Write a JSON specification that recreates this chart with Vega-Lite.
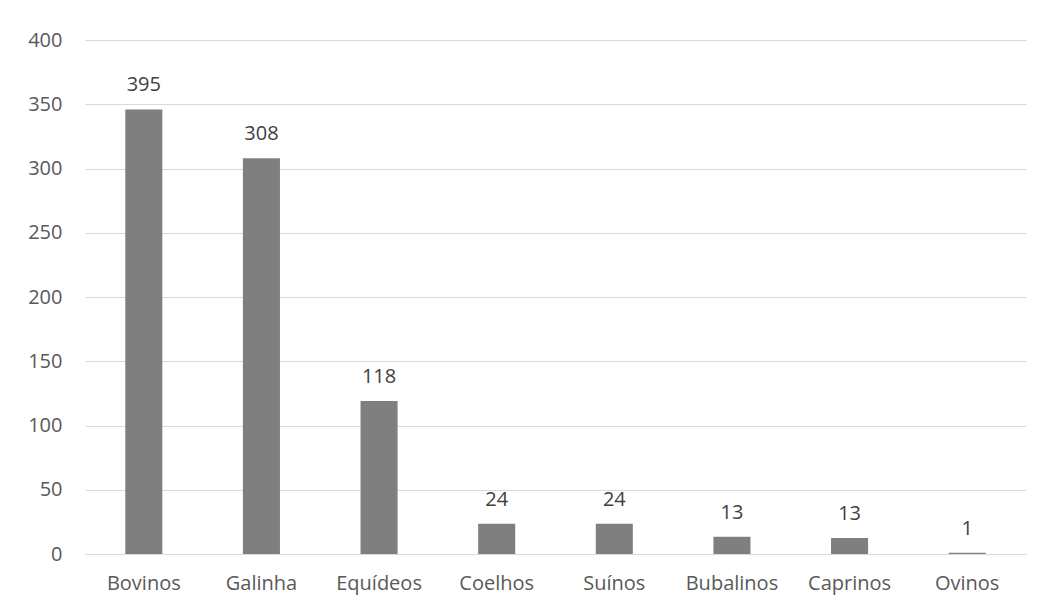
{
  "$schema": "https://vega.github.io/schema/vega-lite/v6.json",
  "width": 941,
  "height": 514,
  "autosize": {"type": "none"},
  "padding": {"left": 85, "top": 40, "right": 15, "bottom": 54},
  "background": "white",
  "config": {"view": {"stroke": null}, "font": "Open Sans"},
  "data": {
    "values": [
      {"animal": "Bovinos", "valor": 346, "rotulo": "395"},
      {"animal": "Galinha", "valor": 308, "rotulo": "308"},
      {"animal": "Equídeos", "valor": 119, "rotulo": "118"},
      {"animal": "Coelhos", "valor": 23.5, "rotulo": "24"},
      {"animal": "Suínos", "valor": 23.5, "rotulo": "24"},
      {"animal": "Bubalinos", "valor": 13.5, "rotulo": "13"},
      {"animal": "Caprinos", "valor": 12.5, "rotulo": "13"},
      {"animal": "Ovinos", "valor": 1, "rotulo": "1"}
    ]
  },
  "encoding": {
    "x": {
      "field": "animal",
      "type": "nominal",
      "sort": null,
      "scale": {"paddingInner": 0, "paddingOuter": 0},
      "axis": {
        "title": null,
        "labelAngle": 0,
        "labelFontSize": 20,
        "labelColor": "#595959",
        "labelPadding": 19,
        "ticks": false,
        "domain": true,
        "domainColor": "#d9d9d9",
        "domainWidth": 1,
        "grid": false
      }
    },
    "y": {
      "field": "valor",
      "type": "quantitative",
      "scale": {"domain": [0, 400], "nice": false},
      "axis": {
        "title": null,
        "values": [0, 50, 100, 150, 200, 250, 300, 350, 400],
        "labelFontSize": 20,
        "labelColor": "#595959",
        "labelPadding": 23,
        "ticks": false,
        "domain": false,
        "grid": true,
        "gridColor": "#d9d9d9",
        "gridWidth": 1
      }
    }
  },
  "layer": [
    {"mark": {"type": "bar", "color": "#7f7f7f", "width": {"band": 0.315}}},
    {
      "mark": {"type": "text", "baseline": "alphabetic", "dy": -18, "fontSize": 20, "color": "#404040"},
      "encoding": {"text": {"field": "rotulo"}}
    }
  ]
}
